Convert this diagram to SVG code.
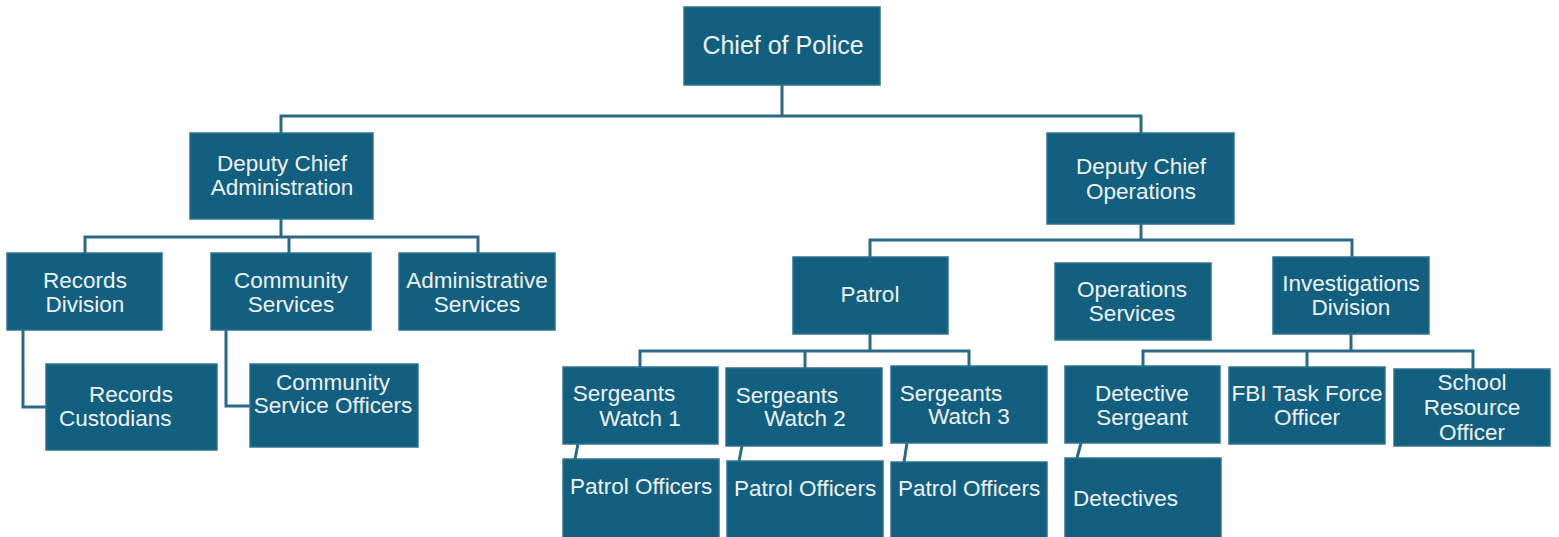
<svg xmlns="http://www.w3.org/2000/svg" width="1559" height="537" viewBox="0 0 1559 537">
<style>
.box{fill:#135f7f;stroke:#2f7391;stroke-width:1.5}
.t{font-family:"Liberation Sans",Arial,sans-serif;font-size:22.5px;fill:#eef3f6}
.c{text-anchor:middle}
.conn{fill:none;stroke:#2b6a86;stroke-width:3}
</style>
<rect width="1559" height="537" fill="#ffffff"/>
<g id="connectors" class="conn">
<path d="M782,85 V116 M281,133 V116 H1141 V133"/>
<path d="M281,219 V237 M85,253 V237 H478 V253 M289,237 V253"/>
<path d="M23,330 V407 H46 M226,330 V406 H250"/>
<path d="M1141,224 V240 M870,257 V240 H1352 V257"/>
<path d="M870,334 V351 M640,367 V351 H969 V366 M805,351 V368"/>
<path d="M578,444 L575,459 M742,446 L739,461 M907,443 L904,462"/>
<path d="M1351,334 V351 M1143,366 V351 H1473 V369 M1307,351 V367"/>
<path d="M1081,443 L1077,458"/>
</g>
<g id="chief"><rect class="box" x="684" y="7" width="196" height="78"/><text class="t c" x="783" y="54" style="font-size:25px">Chief of Police</text></g>
<g id="dc-admin"><rect class="box" x="190" y="133" width="183" height="86"/><text class="t c" x="282" y="171">Deputy Chief</text><text class="t c" x="282" y="195">Administration</text></g>
<g id="dc-ops"><rect class="box" x="1047" y="133" width="187" height="91"/><text class="t c" x="1141" y="174">Deputy Chief</text><text class="t c" x="1141" y="199">Operations</text></g>
<g id="records-division"><rect class="box" x="7" y="253" width="155" height="77"/><text class="t c" x="85" y="288">Records</text><text class="t c" x="85" y="312">Division</text></g>
<g id="community-services"><rect class="box" x="211" y="253" width="160" height="77"/><text class="t c" x="291" y="288">Community</text><text class="t c" x="291" y="312">Services</text></g>
<g id="administrative-services"><rect class="box" x="399" y="253" width="156" height="77"/><text class="t c" x="477" y="288">Administrative</text><text class="t c" x="477" y="312">Services</text></g>
<g id="records-custodians"><rect class="box" x="46" y="364" width="171" height="86"/><text class="t c" x="131" y="402">Records</text><text class="t" x="59" y="426">Custodians</text></g>
<g id="cso"><rect class="box" x="250" y="364" width="168" height="83"/><text class="t c" x="333" y="390">Community</text><text class="t c" x="333" y="413">Service Officers</text></g>
<g id="patrol"><rect class="box" x="793" y="257" width="155" height="77"/><text class="t c" x="870" y="302">Patrol</text></g>
<g id="operations-services"><rect class="box" x="1055" y="263" width="156" height="77"/><text class="t c" x="1132" y="297">Operations</text><text class="t c" x="1132" y="321">Services</text></g>
<g id="investigations"><rect class="box" x="1273" y="257" width="156" height="77"/><text class="t c" x="1351" y="291">Investigations</text><text class="t c" x="1351" y="315">Division</text></g>
<g id="sgt1"><rect class="box" x="563" y="367" width="155" height="77"/><text class="t c" x="624" y="401">Sergeants</text><text class="t c" x="640" y="426">Watch 1</text></g>
<g id="sgt2"><rect class="box" x="726" y="368" width="156" height="78"/><text class="t c" x="787" y="403">Sergeants</text><text class="t c" x="805" y="426">Watch 2</text></g>
<g id="sgt3"><rect class="box" x="891" y="366" width="156" height="77"/><text class="t c" x="951" y="401">Sergeants</text><text class="t c" x="969" y="424">Watch 3</text></g>
<g id="po1"><rect class="box" x="563" y="459" width="156" height="80"/><text class="t" x="570" y="494">Patrol Officers</text></g>
<g id="po2"><rect class="box" x="727" y="461" width="156" height="78"/><text class="t" x="734" y="496">Patrol Officers</text></g>
<g id="po3"><rect class="box" x="891" y="462" width="156" height="77"/><text class="t" x="898" y="496">Patrol Officers</text></g>
<g id="det-sgt"><rect class="box" x="1065" y="366" width="155" height="77"/><text class="t c" x="1142" y="401">Detective</text><text class="t c" x="1142" y="425">Sergeant</text></g>
<g id="fbi"><rect class="box" x="1229" y="367" width="156" height="77"/><text class="t c" x="1307" y="401">FBI Task Force</text><text class="t c" x="1307" y="425">Officer</text></g>
<g id="sro"><rect class="box" x="1394" y="369" width="156" height="77"/><text class="t c" x="1472" y="390">School</text><text class="t c" x="1472" y="415">Resource</text><text class="t c" x="1472" y="440">Officer</text></g>
<g id="detectives"><rect class="box" x="1065" y="458" width="156" height="81"/><text class="t" x="1073" y="506">Detectives</text></g>
</svg>
